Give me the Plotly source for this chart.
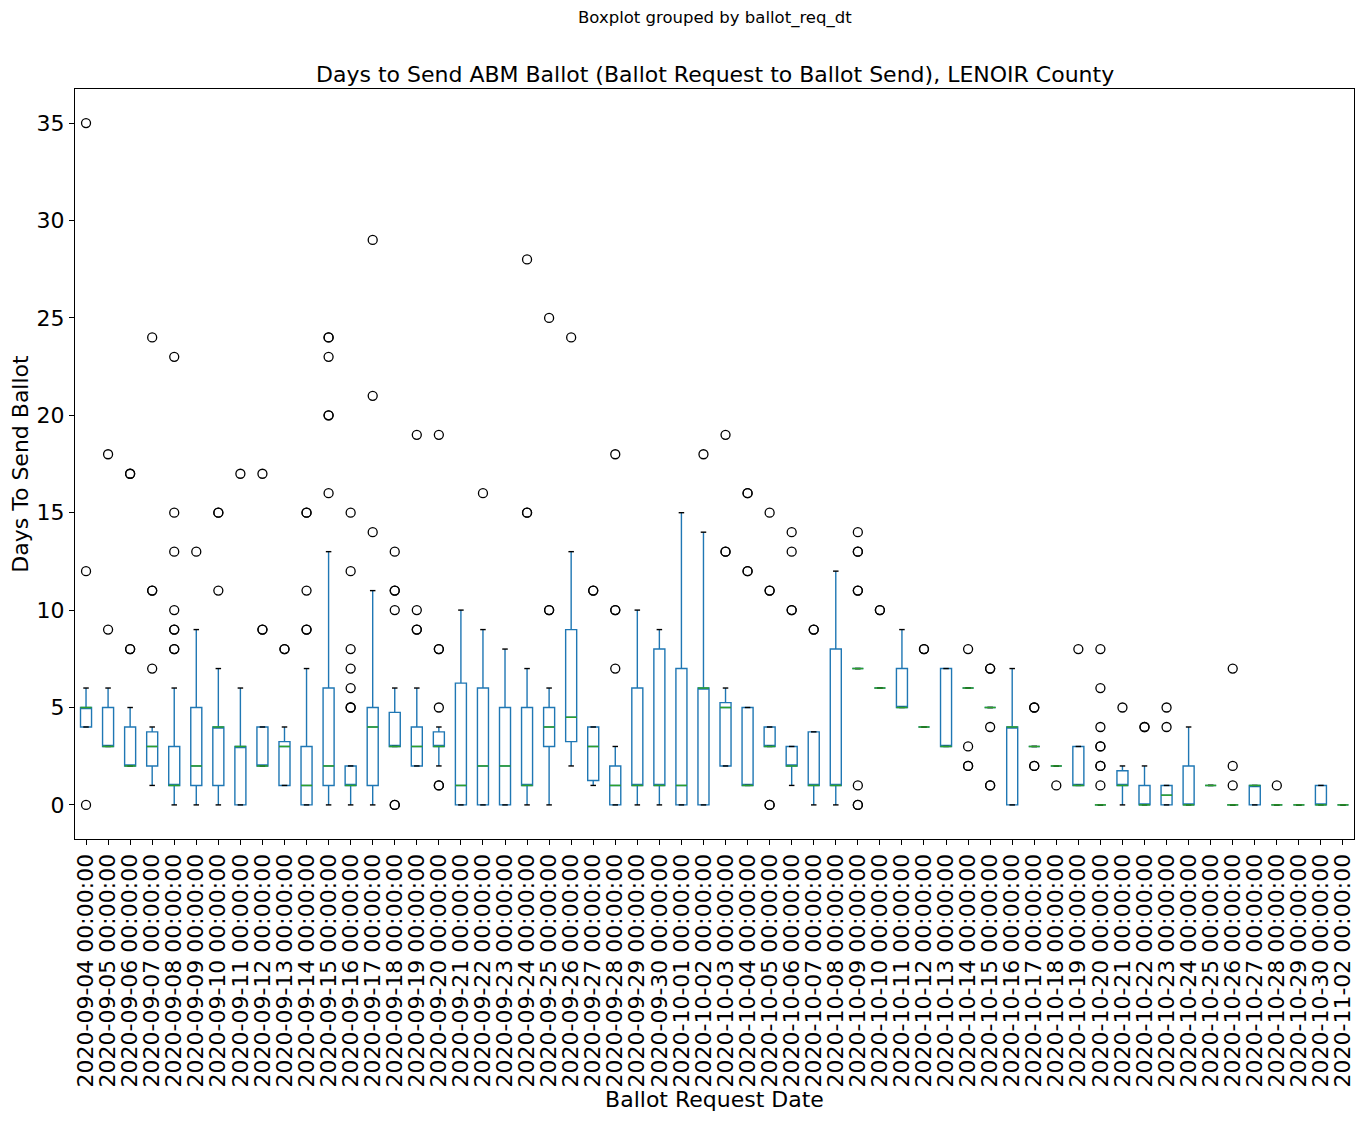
import plotly.graph_objects as go

# request dates (one box per date)
dates = [
    "2020-09-04", "2020-09-05", "2020-09-06", "2020-09-07", "2020-09-08",
    "2020-09-09", "2020-09-10", "2020-09-11", "2020-09-12", "2020-09-13",
    "2020-09-14", "2020-09-15", "2020-09-16", "2020-09-17", "2020-09-18",
    "2020-09-19", "2020-09-20", "2020-09-21", "2020-09-22", "2020-09-23",
    "2020-09-24", "2020-09-25", "2020-09-26", "2020-09-27", "2020-09-28",
    "2020-09-29", "2020-09-30", "2020-10-01", "2020-10-02", "2020-10-03",
    "2020-10-04", "2020-10-05", "2020-10-06", "2020-10-07", "2020-10-08",
    "2020-10-09", "2020-10-10", "2020-10-11", "2020-10-12", "2020-10-13",
    "2020-10-14", "2020-10-15", "2020-10-16", "2020-10-17", "2020-10-18",
    "2020-10-19", "2020-10-20", "2020-10-21", "2020-10-22", "2020-10-23",
    "2020-10-24", "2020-10-25", "2020-10-26", "2020-10-27", "2020-10-28",
    "2020-10-29", "2020-10-30", "2020-11-02",
]

# box statistics (days to send)
q1 = [4, 3, 2, 2, 1, 1, 1, 0, 2, 1,
      0, 1, 1, 1, 3, 2, 3, 0, 0, 0,
      1, 3, 3.25, 1.25, 0, 1, 1, 0, 0, 2,
      1, 3, 2, 1, 1, 7, 6, 5, 4, 3,
      6, 5, 0, 3, 2, 1, 0, 1, 0, 0,
      0, 1, 0, 0, 0, 0, 0, 0]
medians = [5, 3, 2, 3, 1, 2, 4, 3, 2, 3,
           1, 2, 1, 4, 3, 3, 3, 1, 2, 2,
           1, 4, 4.5, 3, 1, 1, 1, 1, 6, 5,
           1, 3, 2, 1, 1, 7, 6, 5, 4, 3,
           6, 5, 4, 3, 2, 1, 0, 1, 0, 0.5,
           0, 1, 0, 1, 0, 0, 0, 0]
q3 = [5, 5, 4, 3.75, 3, 5, 4, 3, 4, 3.25,
      3, 6, 2, 5, 4.75, 4, 3.75, 6.25, 6, 5,
      5, 5, 9, 4, 2, 6, 8, 7, 6, 5.25,
      5, 4, 3, 3.75, 8, 7, 6, 7, 4, 7,
      6, 5, 4, 3, 2, 3, 0, 1.75, 1, 1,
      2, 1, 0, 1, 0, 0, 1, 0]
whisker_lo = [4, 3, 2, 1, 0, 0, 0, 0, 2, 1,
              0, 0, 0, 0, 3, 2, 2, 0, 0, 0,
              0, 0, 2, 1, 0, 0, 0, 0, 0, 2,
              1, 3, 1, 0, 0, 7, 6, 5, 4, 3,
              6, 5, 0, 3, 2, 1, 0, 0, 0, 0,
              0, 1, 0, 0, 0, 0, 0, 0]
whisker_hi = [6, 6, 5, 4, 6, 9, 7, 6, 4, 4,
              7, 13, 2, 11, 6, 6, 4, 10, 9, 8,
              7, 6, 13, 4, 3, 10, 9, 15, 14, 6,
              5, 4, 3, 3.75, 12, 7, 6, 9, 4, 7,
              6, 5, 7, 3, 2, 3, 0, 2, 2, 1,
              4, 1, 0, 1, 0, 0, 1, 0]
fliers = [
    [0, 12, 35], [9, 18], [8, 8, 17, 17], [7, 11, 11, 24], [8, 8, 9, 9, 10, 13, 15, 23],
    [13], [11, 15, 15], [17], [9, 9, 17], [8, 8],
    [9, 9, 11, 15, 15], [16, 20, 20, 23, 24, 24], [5, 5, 6, 7, 8, 12, 15], [14, 21, 29], [0, 0, 10, 11, 11, 13],
    [9, 9, 10, 19], [1, 1, 5, 8, 8, 19], [], [16], [],
    [15, 15, 28], [10, 10, 25], [24], [11, 11], [7, 10, 10, 18],
    [], [], [], [18], [13, 13, 19],
    [12, 12, 16, 16], [0, 0, 11, 11, 15], [10, 10, 13, 14], [9, 9], [],
    [0, 0, 1, 11, 11, 13, 13, 14], [10, 10], [], [8, 8], [],
    [2, 2, 3, 8], [1, 1, 4, 7, 7], [], [2, 2, 5, 5], [1],
    [8], [1, 2, 2, 3, 3, 4, 6, 8], [5], [4, 4], [4, 5],
    [], [], [1, 2, 7], [], [1],
    [], [], [],
]

tick_text = [d + " 00:00:00" for d in dates]
positions = list(range(1, len(dates) + 1))

BOX_W = 0.5
CAP_W = 0.25
FONT = "DejaVu Sans"


def segments(values, half):
    xs, ys = [], []
    for p, v in zip(positions, values):
        xs += [p - half, p + half, None]
        ys += [v, v, None]
    return xs, ys


fig = go.Figure()

fig.add_trace(go.Box(
    x=positions, q1=q1, median=medians, q3=q3,
    lowerfence=whisker_lo, upperfence=whisker_hi,
    width=BOX_W, whiskerwidth=0, boxpoints=False,
    fillcolor="rgba(0,0,0,0)",
    line=dict(color="#1f77b4", width=1.4),
    showlegend=False,
))

# caps (black) and medians (green), matplotlib style
cap_x, cap_y = [], []
for vals in (whisker_lo, whisker_hi):
    sx, sy = segments(vals, CAP_W / 2)
    cap_x += sx
    cap_y += sy
fig.add_trace(go.Scatter(x=cap_x, y=cap_y, mode="lines",
                         line=dict(color="black", width=1.4),
                         showlegend=False, hoverinfo="skip"))

med_x, med_y = segments(medians, BOX_W / 2)
fig.add_trace(go.Scatter(x=med_x, y=med_y, mode="lines",
                         line=dict(color="#2ca02c", width=1.5),
                         showlegend=False, hoverinfo="skip"))

fx, fy = [], []
for p, vals in zip(positions, fliers):
    fx += [p] * len(vals)
    fy += vals
fig.add_trace(go.Scatter(x=fx, y=fy, mode="markers",
                         marker=dict(symbol="circle-open", size=9, color="black",
                                     line=dict(width=1.3)),
                         showlegend=False))

axis_common = dict(
    showline=True, mirror=True, linecolor="black", linewidth=1.1,
    ticks="outside", ticklen=5, tickwidth=1.1, tickcolor="black",
    showgrid=False, zeroline=False, automargin=False,
    tickfont=dict(family=FONT, size=22, color="black"),
)

fig.update_xaxes(
    range=[0.5, 58.5], tickmode="array", tickvals=positions, ticktext=tick_text,
    tickangle=-90,
    title=dict(text="Ballot Request Date", font=dict(family=FONT, size=22, color="black"),
               standoff=5),
    **axis_common,
)
fig.update_yaxes(
    range=[-1.75, 36.75], tickmode="array", tickvals=[0, 5, 10, 15, 20, 25, 30, 35],
    title=dict(text="Days To Send Ballot", font=dict(family=FONT, size=22, color="black"),
               standoff=9),
    **axis_common,
)

# the page body adds an 8px offset, so the figure is 8px smaller than the window
fig.update_layout(
    width=1355, height=1114,
    margin=dict(l=67, r=9, t=81, b=283),
    plot_bgcolor="white", paper_bgcolor="white",
    font=dict(family=FONT, color="black"),
    annotations=[
        dict(text="Days to Send ABM Ballot (Ballot Request to Ballot Send), LENOIR County",
             x=0.5, y=1.0187, xref="paper", yref="paper", xanchor="center", yanchor="middle",
             showarrow=False, font=dict(family=FONT, size=22, color="black")),
        dict(text="Boxplot grouped by ballot_req_dt",
             x=0.5, y=1.0947, xref="paper", yref="paper", xanchor="center", yanchor="middle",
             showarrow=False, font=dict(family=FONT, size=16.5, color="black")),
    ],
)

fig.write_html("out.html")
